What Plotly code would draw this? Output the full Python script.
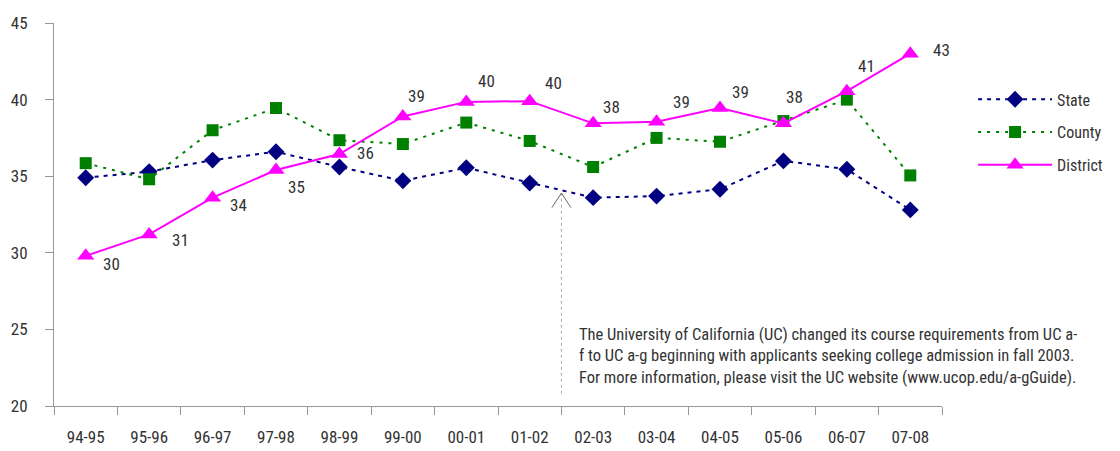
import plotly.graph_objects as go

years = ["94-95", "95-96", "96-97", "97-98", "98-99", "99-00", "00-01",
         "01-02", "02-03", "03-04", "04-05", "05-06", "06-07", "07-08"]
state = [34.9, 35.3, 36.05, 36.6, 35.6, 34.7, 35.55, 34.55, 33.6, 33.7, 34.15, 36.0, 35.45, 32.8]
county = [35.85, 34.8, 38.0, 39.45, 37.35, 37.1, 38.5, 37.3, 35.6, 37.5, 37.25, 38.6, 40.0, 35.05]
district = [29.8, 31.2, 33.6, 35.4, 36.45, 38.9, 39.85, 39.9, 38.45, 38.55, 39.45, 38.45, 40.55, 43.0]

note = ("The University of California (UC) changed its course requirements from UC a-<br>"
        "f to UC a-g beginning with applicants seeking college admission in fall 2003.<br>"
        "For more information, please visit the UC website (www.ucop.edu/a-gGuide).")

FONT = "Roboto Condensed, Liberation Sans, sans-serif"
TXT = "#333333"

# label offsets (px) for the district data labels
lab_dx = [26, 31, 26, 20, 26, 14, 20, 24, 18, 25, 20, 11, 20, 31]
lab_dy = [-8, -6, -7, -17, 1, 20, 21, 18, 16, 20, 16, 26, 25, 4]

fig = go.Figure()
fig.add_trace(go.Scatter(
    x=years, y=state, name="State", mode="lines+markers", legendgroup="a",
    line=dict(color="#000080", width=2, dash="4px,5px"),
    marker=dict(symbol="diamond", size=13, color="#000080"),
))
fig.add_trace(go.Scatter(
    x=years, y=county, name="County", mode="lines+markers", legendgroup="b",
    line=dict(color="#008000", width=2, dash="3px,6px"),
    marker=dict(symbol="square", size=12, color="#008000"),
))
fig.add_trace(go.Scatter(
    x=years, y=district, name="District", mode="lines+markers", legendgroup="c",
    line=dict(color="#FF00FF", width=2),
    marker=dict(symbol="triangle-up", size=15, color="#FF00FF"),
))

for i, (yr, v) in enumerate(zip(years, district)):
    fig.add_annotation(x=yr, y=v, text=f"{v:.0f}", showarrow=False,
                       xshift=lab_dx[i], yshift=lab_dy[i],
                       font=dict(family=FONT, size=17, color=TXT))

# policy change marker between 01-02 and 02-03
fig.add_shape(type="line", xref="x", yref="y", x0=7.5, x1=7.5, y0=20.8, y1=33.9,
              line=dict(color="#aaaaaa", width=1, dash="dot"))
fig.add_shape(type="path", xref="x", yref="y",
              path="M 7.35,32.95 L 7.5,33.9 L 7.65,32.95",
              line=dict(color="#666666", width=1))

fig.add_annotation(xref="paper", yref="paper", x=0.5886, y=0.217,
                   xanchor="left", yanchor="top", align="left", showarrow=False,
                   text=note, font=dict(family=FONT, size=16.5, color=TXT))

# page body has an 8px margin, so the figure is drawn 8px smaller
fig.update_layout(
    width=1112, height=443,
    margin=dict(l=46, r=174, t=15, b=45),
    plot_bgcolor="white", paper_bgcolor="white",
    font=dict(family=FONT, size=17, color=TXT),
    showlegend=True,
    legend=dict(x=1.035, y=0.845, xanchor="left", yanchor="top",
                itemwidth=74, tracegroupgap=9, font=dict(size=16, color=TXT),
                bgcolor="rgba(0,0,0,0)"),
    xaxis=dict(type="category", range=[-0.5, 13.5], tickson="boundaries",
               ticks="outside", ticklen=8, tickcolor="#999999", automargin=False,
               showline=True, linecolor="#999999", linewidth=1,
               ticklabelstandoff=16,
               showgrid=False, tickfont=dict(size=17, color=TXT)),
    yaxis=dict(range=[20, 45], dtick=5, ticks="outside", ticklen=8,
               tickcolor="#999999", showline=True, linecolor="#999999",
               linewidth=1, showgrid=False, zeroline=False, automargin=False,
               ticklabelstandoff=14,
               tickfont=dict(size=17, color=TXT)),
)

fig.write_html("out.html")
